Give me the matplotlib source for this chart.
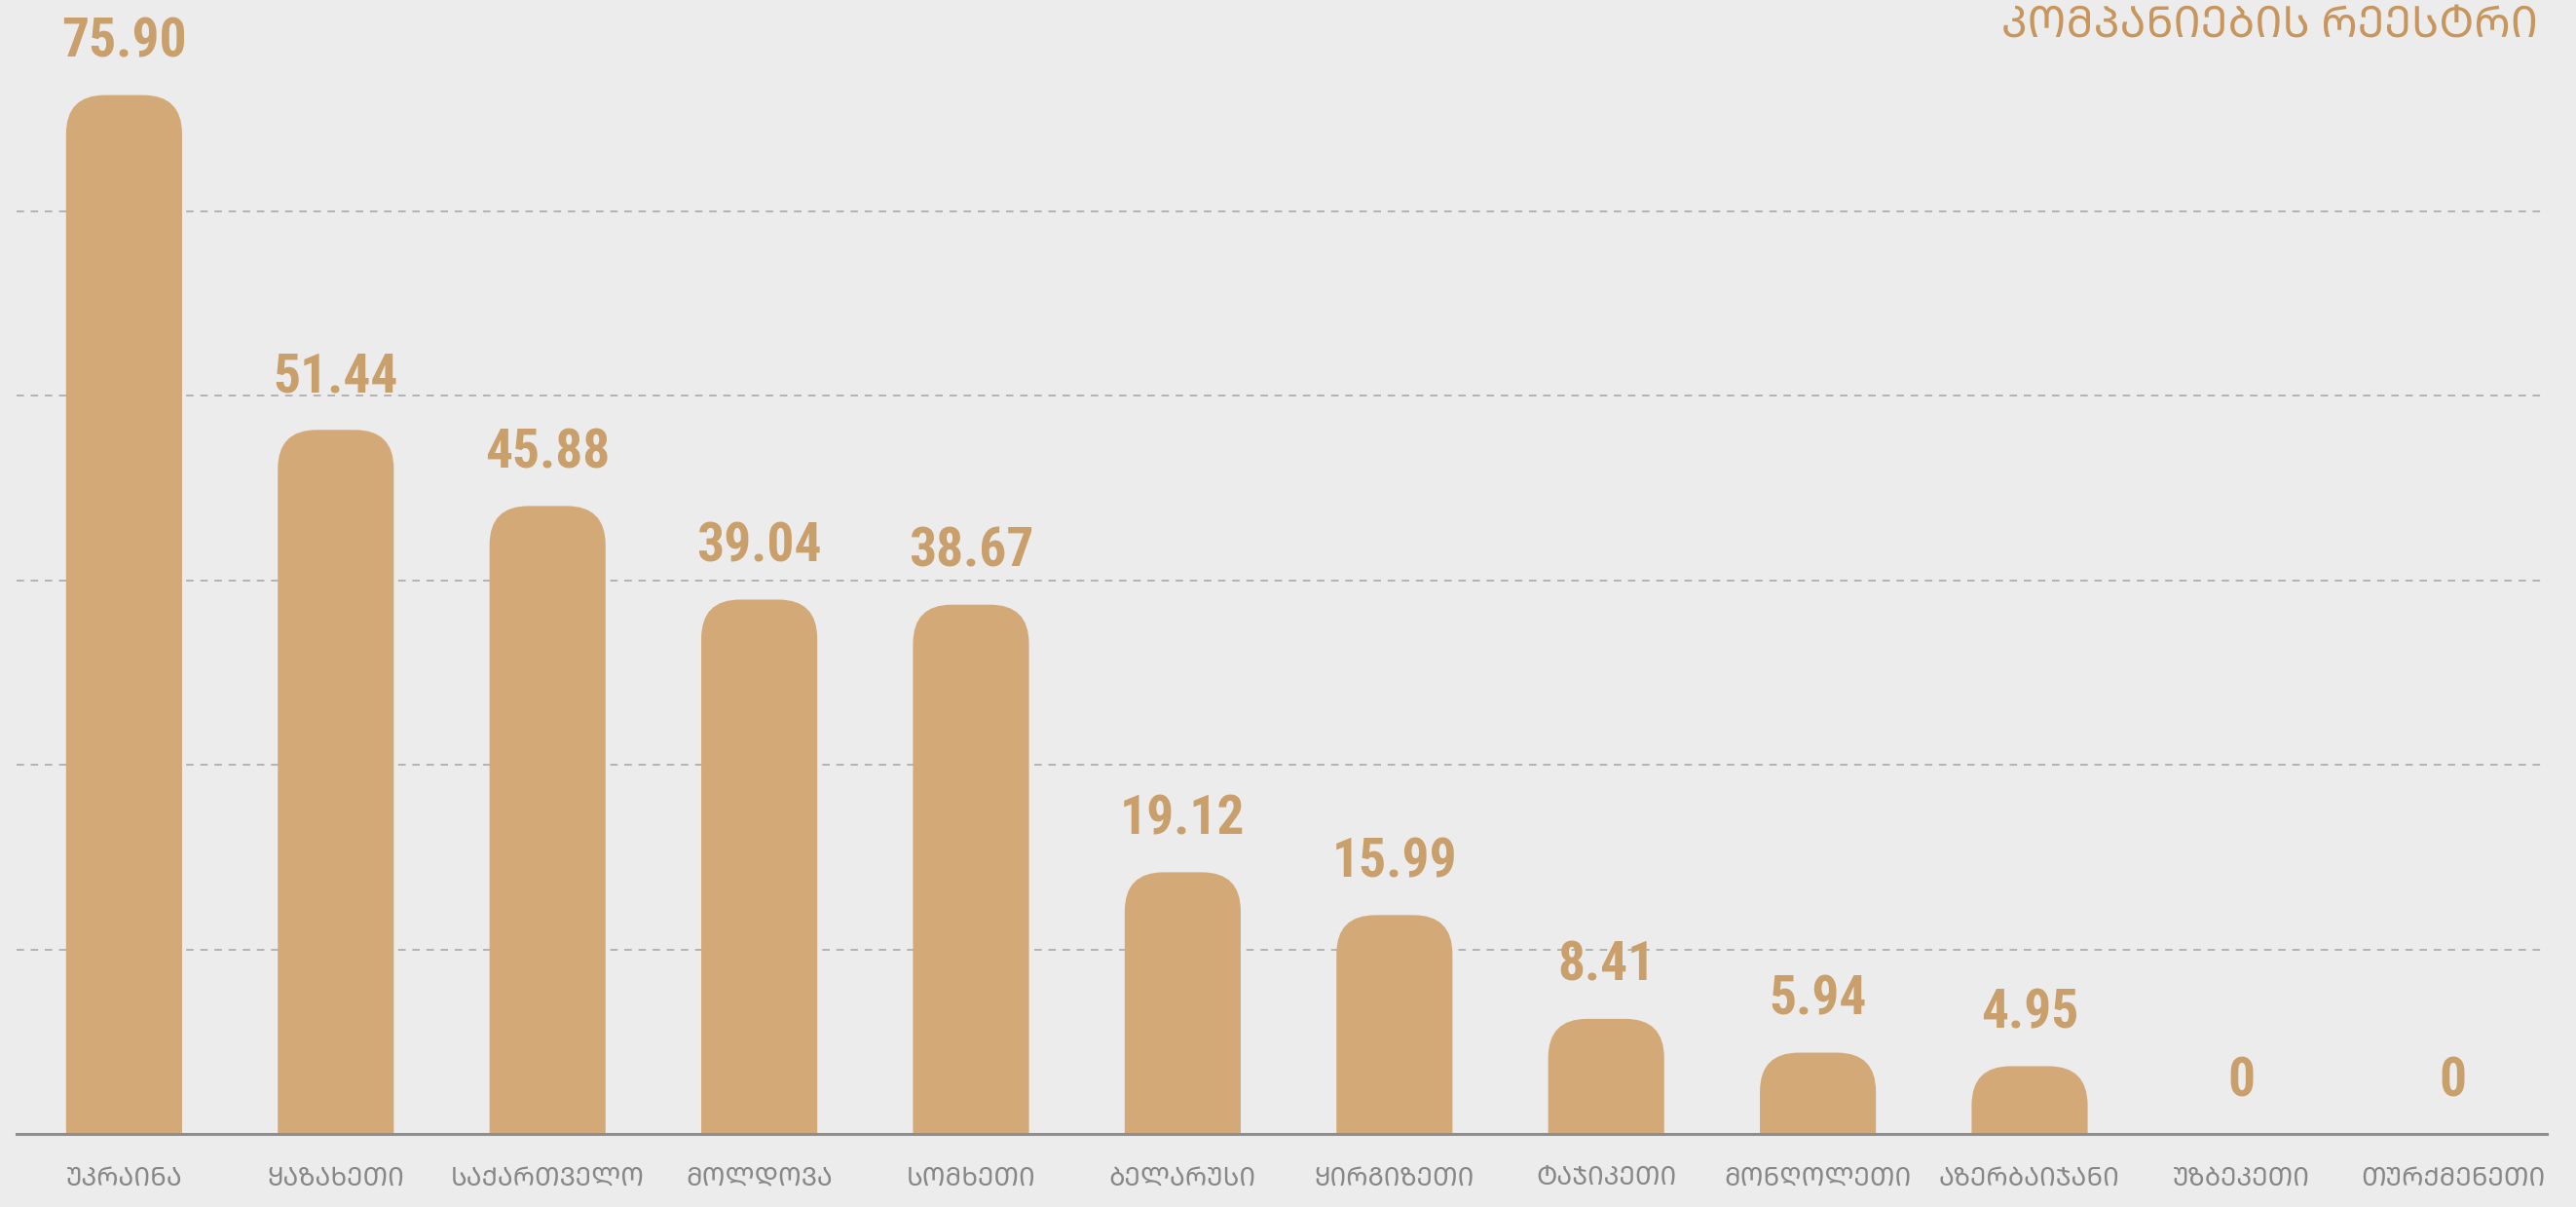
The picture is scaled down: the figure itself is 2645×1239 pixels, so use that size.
import numpy as np
import matplotlib
matplotlib.use('Agg')
import matplotlib.pyplot as plt
from matplotlib import font_manager as fm
from matplotlib.patches import FancyBboxPatch
from matplotlib.ft2font import FT2Font

# ---------------- data ----------------
categories = ['უკრაინა', 'ყაზახეთი', 'საქართველო', 'მოლდოვა', 'სომხეთი', 'ბელარუსი',
              'ყირგიზეთი', 'ტაჯიკეთი', 'მონღოლეთი', 'აზერბაიჯანი', 'უზბეკეთი', 'თურქმენეთი']
values = [75.90, 51.44, 45.88, 39.04, 38.67, 19.12, 15.99, 8.41, 5.94, 4.95, 0, 0]
value_labels = ['75.90', '51.44', '45.88', '39.04', '38.67', '19.12', '15.99',
                '8.41', '5.94', '4.95', '0', '0']
title = 'კომპანიების რეესტრი'

# ---------------- fonts ----------------
def covers(path, text):
    try:
        cmap = FT2Font(path).get_charmap()
    except Exception:
        return False
    return all(ord(c) in cmap for c in text if not c.isspace())

def find_family(text, prefs):
    for name in prefs:
        try:
            path = fm.findfont(fm.FontProperties(family=name), fallback_to_default=False)
        except Exception:
            continue
        if covers(path, text):
            return name
    return None

geo_prefs = ['Noto Sans Georgian', 'DejaVu Sans', 'Noto Sans', 'Liberation Sans']
upper_cats = [c.upper() for c in categories]
upper_title = title.upper()
geo_font = find_family(''.join(upper_cats) + upper_title, geo_prefs)
if geo_font is not None and upper_cats != categories:
    cat_text, title_text = upper_cats, upper_title
else:
    geo_font = find_family(''.join(categories) + title, geo_prefs) or 'DejaVu Sans'
    cat_text, title_text = categories, title

# condensed bold font for the numbers
narrow_path = None
order = ['LiberationSansNarrow-Bold.', 'RobotoCondensed-Bold.', 'DejaVuSansCondensed-Bold.',
         'NotoSans-CondensedBold.', 'OpenSans-CondensedBold.', 'OpenSans_Condensed-Bold.']
fnames = [f.fname for f in fm.fontManager.ttflist]
for key in order:
    hit = [p for p in fnames if key in p.split('/')[-1]]
    if hit:
        narrow_path = hit[0]
        break
if narrow_path is None:
    hit = [p for p in fnames if ('Condensed' in p or 'Narrow' in p) and 'Bold' in p
           and 'Italic' not in p and 'Semi' not in p and 'Extra' not in p]
    narrow_path = hit[0] if hit else None

# ---------------- figure ----------------
W, H = 2645, 1239
BG = '#ececec'
BAR = '#d4a978'
NUM = '#c9a06c'
fig = plt.figure(figsize=(W / 100, H / 100), dpi=100, facecolor=BG)

base_px = 1164
ax_l, ax_r = 17, 2615
ax = fig.add_axes([ax_l / W, (H - base_px) / H, (ax_r - ax_l) / W, base_px / H])
ax.set_facecolor('none')

px_per_unit_y = 14.05
slot_px = 217.4
first_center = 127.4 - ax_l
xl = -first_center / slot_px
ax.set_xlim(xl, xl + (ax_r - ax_l) / slot_px)
ax.set_ylim(0, base_px / px_per_unit_y)

x = np.arange(len(categories))
bars = ax.bar(x, values, width=0.548, color=BAR, linewidth=0)

# rounded tops
p0 = ax.transData.transform((0, 0))
p1 = ax.transData.transform((1, 1))
sx, sy = p1[0] - p0[0], p1[1] - p0[1]
r_px = 40
rx = r_px / sx
ry = r_px / sy
for rect, v in zip(bars, values):
    rect.set_visible(False)
    if v <= 0:
        continue
    patch = FancyBboxPatch((rect.get_x(), -ry), rect.get_width(), v + ry,
                           boxstyle=f'round,pad=0,rounding_size={rx}',
                           mutation_aspect=sx / sy, facecolor=BAR, edgecolor='none', zorder=3)
    ax.add_patch(patch)

# grid
grid_step = 13.53
ax.set_yticks(np.arange(1, 6) * grid_step * 14.0 / px_per_unit_y)
ax.grid(axis='y', color='#a3a3a3', linestyle=(0, (5, 4.5)), linewidth=1.1, zorder=1)
ax.tick_params(left=False, labelleft=False, bottom=False, labelbottom=False)
for s in ['left', 'right', 'top']:
    ax.spines[s].set_visible(False)
ax.spines['bottom'].set_color('#8e8e8e')
ax.spines['bottom'].set_linewidth(2.2)
ax.spines['bottom'].set_zorder(4)

# value labels
if narrow_path:
    numfp = fm.FontProperties(fname=narrow_path, size=40)
else:
    numfp = fm.FontProperties(family='DejaVu Sans', weight='bold', size=32)
for xi, v, lab in zip(x, values, value_labels):
    ax.annotate(lab, (xi, v), xytext=(0, 28), textcoords='offset points',
                ha='center', va='baseline', color=NUM, fontproperties=numfp,
                annotation_clip=False, zorder=5)

# category labels
for xi, lab in zip(x, cat_text):
    ax.annotate(lab, (xi, 0), xytext=(0, -38), textcoords='offset points',
                ha='center', va='baseline', color='#878787', fontsize=19,
                family=[geo_font, 'DejaVu Sans'], annotation_clip=False)

# title (cut at top edge like the reference)
fig.text(2606 / W, 1 - 38 / H, title_text, ha='right', va='baseline',
         color='#c8965c', fontsize=32, family=[geo_font, 'DejaVu Sans'])

fig.savefig('out.png', dpi=100, facecolor=BG)
